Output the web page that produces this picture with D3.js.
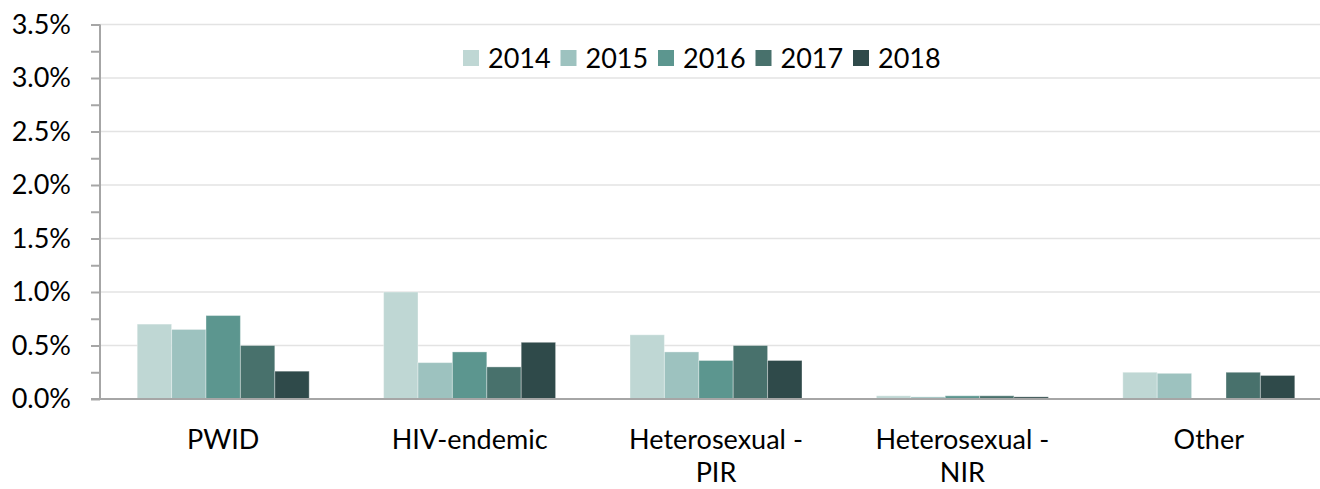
<!DOCTYPE html>
<html>
<head>
<meta charset="utf-8">
<script src="https://cdn.jsdelivr.net/npm/d3@7"></script>
<style>
  html, body { margin: 0; padding: 0; background: #fff; }
  svg { display: block; font-family: "Lato", "Open Sans", sans-serif; }
</style>
</head>
<body>
<svg id="chart" width="1320" height="489"></svg>
<script>
const categories = [["PWID"], ["HIV-endemic"], ["Heterosexual -", "PIR"], ["Heterosexual -", "NIR"], ["Other"]];
const years = ["2014", "2015", "2016", "2017", "2018"];
const colors = ["#bfd7d4", "#9dc2bf", "#5c968f", "#48716c", "#2f4a4a"];
const v2014 = [0.70, 1.00, 0.60, 0.03, 0.25];
const v2015 = [0.65, 0.34, 0.44, 0.02, 0.24];
const v2016 = [0.78, 0.44, 0.36, 0.03, 0];
const v2017 = [0.50, 0.30, 0.50, 0.03, 0.25];
const v2018 = [0.26, 0.53, 0.36, 0.02, 0.22];
const series = [v2014, v2015, v2016, v2017, v2018];
const yTicks = [0, 0.5, 1.0, 1.5, 2.0, 2.5, 3.0, 3.5];
const yMinorTicks = [0.25, 0.75, 1.25, 1.75, 2.25, 2.75, 3.25];

const svg = d3.select("#chart");
const left = 100, right = 1332, y0 = 399, yTop = 24.5;
const FS = 27;

const x = d3.scaleBand().domain(d3.range(categories.length)).range([left, right]).padding(0);
const bw = x.bandwidth();
const xs = d3.scaleBand().domain(years).range([bw * 0.151, bw * 0.849]).padding(0);
const y = d3.scaleLinear().domain([0, 3.5]).range([y0, yTop]);

// gridlines
svg.append("g").selectAll("line").data(yTicks.slice(1)).join("line")
  .attr("x1", left).attr("x2", 1320)
  .attr("y1", d => y(d)).attr("y2", d => y(d))
  .attr("stroke", "#e3e3e3").attr("stroke-width", 1.6);

// bars
const gBars = svg.append("g");
series.forEach((vals, si) => {
  gBars.append("g").selectAll("rect").data(vals).join("rect")
    .attr("x", (d, i) => x(i) + xs(years[si]))
    .attr("width", xs.bandwidth())
    .attr("y", d => y(d))
    .attr("height", d => y0 - y(d))
    .attr("fill", colors[si])
    .attr("stroke", "rgba(255,255,255,0.35)")
    .attr("stroke-width", 1);
});

// y axis
const yAxis = d3.axisLeft(y).tickValues(yTicks).tickSize(9).tickPadding(20)
  .tickFormat(d => d.toFixed(1) + "%");
const ga = svg.append("g").attr("transform", `translate(${left},0)`).call(yAxis);
ga.select(".domain").attr("stroke", "#a6a6a6").attr("stroke-width", 2)
  .attr("d", `M0,${yTop}V${y0}`);
ga.selectAll(".tick line").attr("stroke", "#a6a6a6").attr("stroke-width", 2);
ga.selectAll(".tick text").attr("font-size", FS).attr("fill", "#000")
  .attr("font-family", "Lato, 'Open Sans', sans-serif");
const gm = svg.append("g").attr("transform", `translate(${left},0)`)
  .call(d3.axisLeft(y).tickValues(yMinorTicks).tickSize(9).tickFormat(""));
gm.select(".domain").remove();
gm.selectAll(".tick line").attr("stroke", "#a6a6a6").attr("stroke-width", 2);

// x axis line
svg.append("line").attr("x1", left - 9).attr("x2", 1320)
  .attr("y1", y0).attr("y2", y0)
  .attr("stroke", "#a6a6a6").attr("stroke-width", 2);

// category labels
const gl = svg.append("g");
categories.forEach((lines, i) => {
  const t = gl.append("text")
    .attr("x", x(i) + bw / 2)
    .attr("y", 449)
    .attr("text-anchor", "middle")
    .attr("font-size", FS)
    .attr("fill", "#000");
  lines.forEach((ln, j) => {
    t.append("tspan").attr("x", x(i) + bw / 2).attr("y", 449 + j * 33).text(ln);
  });
});

// legend
const legX = d3.scalePoint().domain(years).range([463, 853]);
const lg = svg.append("g");
years.forEach((yr, i) => {
  lg.append("rect").attr("x", legX(yr)).attr("y", 50).attr("width", 16).attr("height", 16)
    .attr("fill", colors[i]);
  lg.append("text").attr("x", legX(yr) + 25).attr("y", 68)
    .attr("font-size", FS).attr("fill", "#000").text(yr);
});
</script>
</body>
</html>
